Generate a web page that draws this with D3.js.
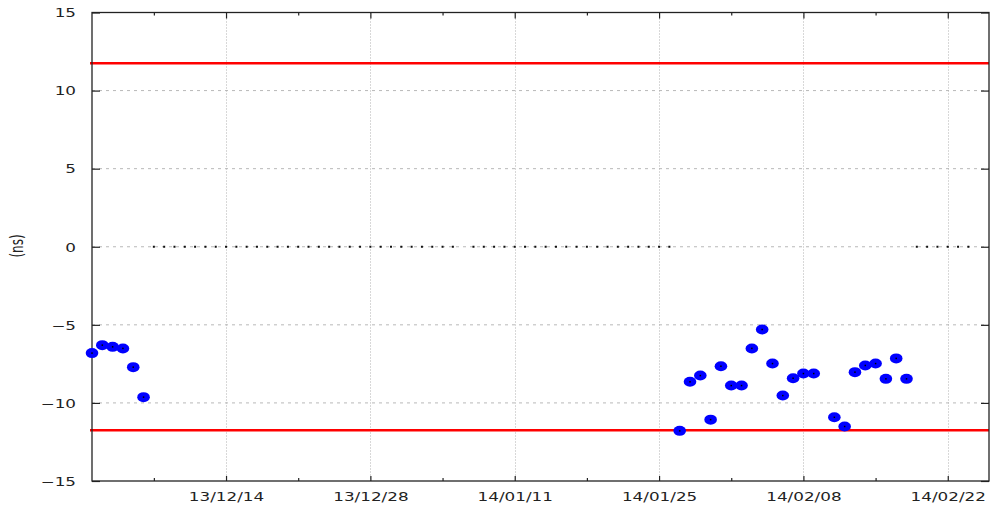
<!DOCTYPE html>
<html><head><meta charset="utf-8">
<script src="https://cdn.jsdelivr.net/npm/d3@7"></script>
<style>
html,body{margin:0;padding:0;background:#fff;}
svg{display:block;}
text{font-family:"DejaVu Sans",sans-serif;font-size:12px;fill:#222;}
</style></head>
<body>
<svg id="chart" width="990" height="508"></svg>
<script>
// ---- data ----
const measDates = ["2013-12-01","2013-12-02","2013-12-03","2013-12-04","2013-12-05","2013-12-06",
  "2014-01-27","2014-01-28","2014-01-29","2014-01-30","2014-01-31","2014-02-01","2014-02-02",
  "2014-02-03","2014-02-04","2014-02-05","2014-02-06","2014-02-07","2014-02-08","2014-02-09",
  "2014-02-11","2014-02-12","2014-02-13","2014-02-14","2014-02-15","2014-02-16","2014-02-17","2014-02-18"];
const measValues = [-6.81,-6.30,-6.41,-6.51,-7.71,-9.63,
  -11.79,-8.65,-8.25,-11.07,-7.65,-8.89,-8.89,
  -6.51,-5.30,-7.48,-9.53,-8.42,-8.12,-8.12,
  -10.92,-11.51,-8.03,-7.60,-7.48,-8.46,-7.15,-8.46];
const missingRanges = [["2013-12-07","2014-01-05"],["2014-01-07","2014-01-26"],["2014-02-19","2014-02-24"]];
const limitValues = [11.75,-11.75];
const yTicks = [-15,-10,-5,0,5,10,15];
const xMajorTicks = ["2013-12-14","2013-12-28","2014-01-11","2014-01-25","2014-02-08","2014-02-22"];
const xMinorTicks = ["2013-12-07","2013-12-21","2014-01-04","2014-01-18","2014-02-01","2014-02-15"];
const yLabel = "(ns)";

// ---- setup ----
const parse = d3.utcParse("%Y-%m-%d");
const fmt = d3.utcFormat("%y/%m/%d");
const L = 92, R = 989, T = 12.5, B = 481;
const x = d3.scaleUtc().domain([parse("2013-12-01"), parse("2014-02-26")]).range([L, R]);
const y = d3.scaleLinear().domain([-15, 15]).range([B, T]);
const svg = d3.select("#chart");

const missing = [];
missingRanges.forEach(([a,b]) => d3.utcDay.range(parse(a), d3.utcDay.offset(parse(b),1)).forEach(d => missing.push(d)));
const meas = measDates.map((d,i) => ({date: parse(d), value: measValues[i]}));

// grid
const g = svg.append("g");
g.selectAll("line.hg").data(yTicks.filter(v => v > -15 && v < 15)).join("line")
  .attr("x1", L).attr("x2", R).attr("y1", d => y(d)).attr("y2", d => y(d))
  .attr("stroke", "#b8b8b8").attr("stroke-width", 1).attr("stroke-dasharray", "3,4");
g.selectAll("line.vg").data(xMajorTicks.map(parse)).join("line")
  .attr("x1", d => Math.round(x(d)) + 0.5).attr("x2", d => Math.round(x(d)) + 0.5).attr("y1", T).attr("y2", B)
  .attr("stroke", "#b0b0b0").attr("stroke-width", 1).attr("stroke-dasharray", "1,2");

// limit lines
svg.selectAll("line.lim").data(limitValues).join("line")
  .attr("x1", L - 2).attr("x2", R).attr("y1", d => y(d)).attr("y2", d => y(d))
  .attr("stroke", "#ff0000").attr("stroke-width", 2.5);

// axes
function styleAxis(sel) {
  sel.select(".domain").remove();
  sel.selectAll(".tick line").attr("stroke", "#222").attr("stroke-width", 1.2);
}
const leftAx = svg.append("g").attr("transform", `translate(${L},0)`)
  .call(d3.axisLeft(y).tickValues(yTicks).tickSize(-8).tickPadding(0).tickFormat(d3.format("d")));
styleAxis(leftAx);
leftAx.selectAll(".tick text").attr("x", 0).attr("dy", "0.36em").attr("text-anchor", "end")
  .attr("transform", "translate(-16,0) scale(1.4,1)");
const rightAx = svg.append("g").attr("transform", `translate(${R},0)`)
  .call(d3.axisRight(y).tickValues(yTicks).tickSize(-8).tickFormat(""));
styleAxis(rightAx);

const botAx = svg.append("g").attr("transform", `translate(0,${B})`)
  .call(d3.axisBottom(x).tickValues(xMajorTicks.map(parse)).tickSize(-5).tickFormat(fmt));
styleAxis(botAx);
botAx.selectAll(".tick text").attr("y", 0).attr("dy", 0).attr("text-anchor", "middle")
  .attr("transform", "translate(0,19.5) scale(1.4,1)");
const botMin = svg.append("g").attr("transform", `translate(0,${B})`)
  .call(d3.axisBottom(x).tickValues(xMinorTicks.map(parse)).tickSize(-3).tickFormat(""));
styleAxis(botMin);
const topAx = svg.append("g").attr("transform", `translate(0,${T})`)
  .call(d3.axisTop(x).tickValues(xMajorTicks.map(parse)).tickSize(-6).tickFormat(""));
styleAxis(topAx);
const topMin = svg.append("g").attr("transform", `translate(0,${T})`)
  .call(d3.axisTop(x).tickValues(xMinorTicks.map(parse)).tickSize(-3).tickFormat(""));
styleAxis(topMin);

// frame
svg.append("rect").attr("x", L).attr("y", T).attr("width", R - L).attr("height", B - T)
  .attr("fill", "none").attr("stroke", "#222").attr("stroke-width", 1.3);

// y label
svg.append("text").attr("transform", "translate(23,246) rotate(-90) scale(1,1.4)").attr("text-anchor", "middle")
  .text(yLabel);

// missing points (tiny dots at 0)
svg.selectAll("rect.miss").data(missing).join("rect")
  .attr("x", d => x(d) - 1).attr("y", y(0) - 1).attr("width", 2).attr("height", 2).attr("fill", "#111");

// measured points
svg.selectAll("ellipse.pt").data(meas).join("ellipse")
  .attr("cx", d => x(d.date)).attr("cy", d => y(d.value)).attr("rx", 6.3).attr("ry", 5)
  .attr("fill", "#0000ff");
svg.selectAll("rect.ctr").data(meas).join("rect")
  .attr("x", d => x(d.date) - 0.75).attr("y", d => y(d.value) - 0.75).attr("width", 1.5).attr("height", 1.5).attr("fill", "#000");
</script>
</body></html>
